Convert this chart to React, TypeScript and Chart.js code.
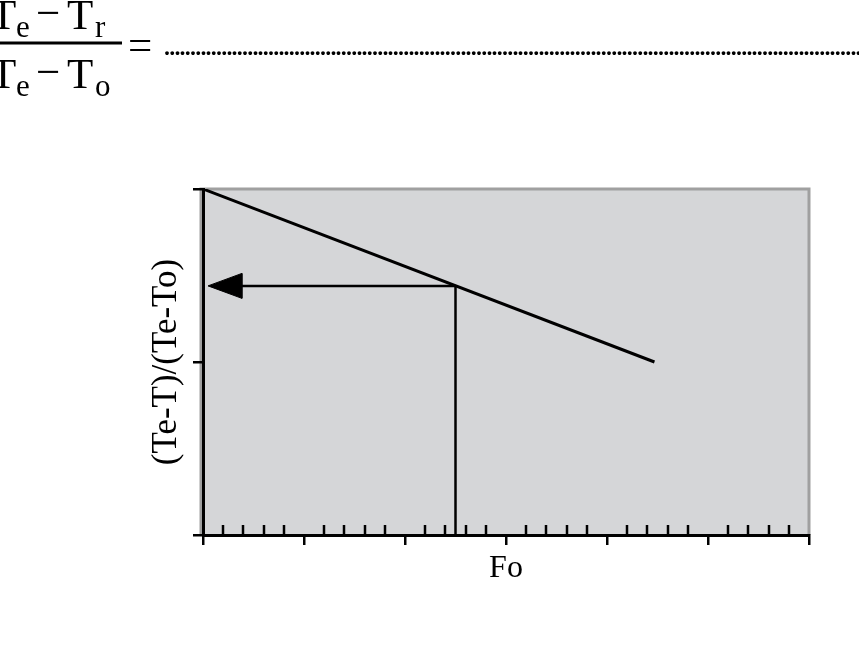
import React, { useEffect, useRef } from "react";
import { Chart, registerables } from "chart.js";

Chart.register(...registerables);

// ---- data ----
const X_RANGE = [0, 6];
const X_MAJOR_STEP = 1;
const X_MINOR_STEP = 0.2;
const Y_RANGE = [0, 1];
const Y_STEP = 0.5;

const LINE_X = [0, 4.47];
const LINE_Y = [1, 0.5];

const READ_FO = 2.5;
const READ_RATIO = 0.72;

const ARROW_TIP_X = 0.05;
const ARROW_BASE_X = 0.385;
const ARROW_HALF_H = 0.036;

const X_TITLE = "Fo";
const Y_TITLE = "(Te-T)/(Te-To)";

const FONT = "'Liberation Serif', 'Times New Roman', serif";

const plotDecor = {
  id: "plotDecor",
  beforeDraw(chart: any) {
    const { ctx, chartArea } = chart;
    const { left, top, right, bottom } = chartArea;
    ctx.save();
    ctx.fillStyle = "#d5d6d8";
    ctx.fillRect(left, top, right - left, bottom - top);
    ctx.strokeStyle = "#a0a0a0";
    ctx.lineWidth = 3;
    ctx.beginPath();
    ctx.moveTo(left - 2, bottom);
    ctx.lineTo(left - 2, top);
    ctx.lineTo(right, top);
    ctx.lineTo(right, bottom);
    ctx.stroke();
    ctx.restore();
  },
  beforeDatasetsDraw(chart: any) {
    const { ctx, chartArea, scales } = chart;
    const xs = scales.x;
    ctx.save();
    ctx.strokeStyle = "#000";
    ctx.lineWidth = 2.5;
    const n = Math.round((X_RANGE[1] - X_RANGE[0]) / X_MINOR_STEP);
    const per = Math.round(X_MAJOR_STEP / X_MINOR_STEP);
    for (let i = 0; i <= n; i++) {
      if (i % per === 0) continue;
      const v = X_RANGE[0] + i * X_MINOR_STEP;
      const px = Math.round(xs.getPixelForValue(v));
      ctx.beginPath();
      ctx.moveTo(px, chartArea.bottom);
      ctx.lineTo(px, chartArea.bottom - 10);
      ctx.stroke();
    }
    ctx.restore();
  },
};

function Formula() {
  const dots = ".".repeat(140);
  return (
    <svg
      width={859}
      height={662}
      style={{ position: "absolute", left: 0, top: 0, pointerEvents: "none" }}
    >
      <g fontFamily={FONT} fill="#000">
        <text x={-10} y={29} fontSize={43}>T</text>
        <text x={16} y={37} fontSize={31}>e</text>
        <text x={36} y={27} fontSize={43}>−</text>
        <text x={67} y={29} fontSize={43}>T</text>
        <text x={95} y={37} fontSize={31}>r</text>
        <rect x={0} y={41.5} width={122} height={3} />
        <text x={-10} y={88} fontSize={43}>T</text>
        <text x={16} y={96} fontSize={31}>e</text>
        <text x={36} y={86} fontSize={43}>−</text>
        <text x={67} y={88} fontSize={43}>T</text>
        <text x={95} y={96} fontSize={31}>o</text>
        <text x={128} y={59} fontSize={43}>=</text>
        <text x={163} y={55} fontSize={32} letterSpacing={-2.8}>{dots}</text>
      </g>
    </svg>
  );
}

export default function App() {
  const canvasRef = useRef<HTMLCanvasElement | null>(null);

  useEffect(() => {
    if (!canvasRef.current) return;
    const chart = new Chart(canvasRef.current, {
      type: "scatter",
      data: {
        datasets: [
          {
            label: "curve",
            data: LINE_X.map((x, i) => ({ x, y: LINE_Y[i] })),
            showLine: true,
            borderColor: "#000",
            borderWidth: 3,
            pointRadius: 0,
          },
          {
            label: "vertical",
            data: [
              { x: READ_FO, y: Y_RANGE[0] },
              { x: READ_FO, y: READ_RATIO },
            ],
            showLine: true,
            borderColor: "#000",
            borderWidth: 2.5,
            pointRadius: 0,
          },
          {
            label: "shaft",
            data: [
              { x: READ_FO, y: READ_RATIO },
              { x: ARROW_BASE_X, y: READ_RATIO },
            ],
            showLine: true,
            borderColor: "#000",
            borderWidth: 2.5,
            pointRadius: 0,
          },
          {
            label: "head",
            data: [
              { x: ARROW_TIP_X, y: READ_RATIO },
              { x: ARROW_BASE_X, y: READ_RATIO + ARROW_HALF_H },
              { x: ARROW_BASE_X, y: READ_RATIO - ARROW_HALF_H },
              { x: ARROW_TIP_X, y: READ_RATIO },
            ],
            showLine: true,
            borderColor: "#000",
            backgroundColor: "#000",
            borderWidth: 1,
            pointRadius: 0,
            fill: "shape",
          } as any,
        ],
      },
      options: {
        animation: false,
        responsive: false,
        devicePixelRatio: 1,
        layout: { padding: { top: 189, right: 50, left: 0, bottom: 0 } },
        plugins: {
          legend: { display: false },
          tooltip: { enabled: false },
        },
        scales: {
          x: {
            type: "linear",
            position: "bottom",
            min: X_RANGE[0],
            max: X_RANGE[1],
            ticks: { stepSize: X_MAJOR_STEP, display: false },
            grid: {
              drawOnChartArea: false,
              drawTicks: true,
              tickLength: 10,
              color: "#000",
              lineWidth: 2.5,
            },
            border: { color: "#000", width: 3 },
            title: {
              display: true,
              text: X_TITLE,
              color: "#000",
              font: { family: FONT, size: 32, weight: "normal" },
              padding: { top: 0, bottom: 74 },
            },
            afterFit: (s: any) => {
              s.height = 127;
            },
          },
          y: {
            type: "linear",
            min: Y_RANGE[0],
            max: Y_RANGE[1],
            ticks: { stepSize: Y_STEP, display: false },
            grid: {
              drawOnChartArea: false,
              drawTicks: true,
              tickLength: 10,
              color: "#000",
              lineWidth: 2.5,
            },
            border: { color: "#000", width: 3 },
            title: {
              display: true,
              text: Y_TITLE,
              color: "#000",
              font: { family: FONT, size: 35, weight: "normal" },
              padding: { top: 146, bottom: 0 },
            },
            afterFit: (s: any) => {
              s.width = 203;
            },
          },
        },
      },
      plugins: [plotDecor],
    });
    return () => chart.destroy();
  }, []);

  return (
    <div
      style={{
        position: "absolute",
        left: 0,
        top: 0,
        width: 859,
        height: 662,
        background: "#fff",
        overflow: "hidden",
      }}
    >
      <canvas ref={canvasRef} width={859} height={662} style={{ display: "block" }} />
      <Formula />
    </div>
  );
}
